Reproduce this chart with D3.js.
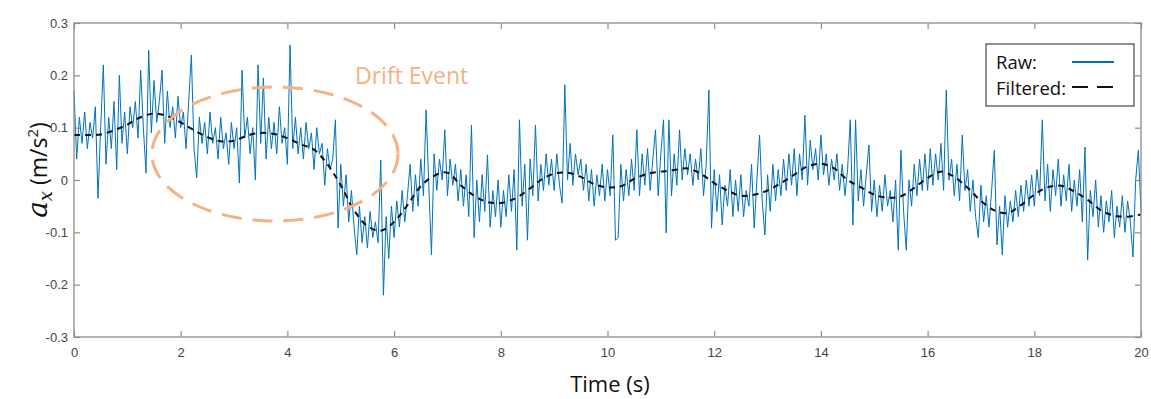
<!DOCTYPE html>
<html><head><meta charset="utf-8">
<script src="https://cdn.jsdelivr.net/npm/d3@7"></script>
<style>body{margin:0;background:#fff}svg{display:block}</style>
</head><body>
<svg id="chart" width="1151" height="399"></svg>
<script>
// ---- data ----
const rawStep = 0.05;
const rawValues = [
0.17,0.04,0.12,0.07,0.13,0.06,0.11,0.08,0.14,-0.035,0.10,0.22,0.03,0.12,0.06,0.15,0.02,0.20,0.07,0.13,
0.05,0.14,0.10,0.15,0.08,0.21,0.10,0.013,0.248,0.09,0.19,0.11,0.15,0.21,0.07,0.17,0.10,0.14,0.08,0.16,
0.10,0.13,0.06,0.15,0.239,0.06,0.004,0.12,0.07,0.11,0.05,0.13,0.07,0.10,0.04,0.12,0.06,0.09,0.03,0.11,
0.06,0.10,-0.006,0.21,0.08,0.12,0.05,0.10,0.00,0.22,0.07,0.195,0.04,0.12,0.06,0.11,0.05,0.14,0.07,0.10,
0.03,0.258,0.06,0.12,0.05,0.10,0.04,0.11,0.06,0.09,0.02,0.10,0.05,0.07,-0.01,0.06,0.02,0.04,0.115,-0.092,
0.03,-0.05,0.01,-0.08,-0.02,-0.09,-0.143,-0.05,-0.12,-0.07,-0.13,-0.06,-0.11,-0.08,-0.12,0.038,-0.22,-0.07,-0.15,-0.05,
-0.11,-0.04,-0.09,-0.02,-0.08,-0.03,0.03,-0.06,0.01,-0.05,0.04,-0.03,0.134,-0.01,-0.143,0.05,-0.02,0.04,0.00,0.096,
-0.03,0.04,-0.01,0.03,-0.04,0.02,-0.05,0.01,-0.07,0.105,-0.11,0.00,-0.08,0.01,-0.06,0.048,-0.09,-0.02,-0.07,0.00,
-0.09,-0.02,-0.07,0.01,-0.06,0.02,-0.134,0.115,-0.05,0.03,-0.115,0.04,-0.03,0.105,-0.04,0.03,-0.02,0.05,-0.01,0.04,
-0.02,0.05,-0.01,-0.044,0.182,0.00,0.07,-0.01,0.05,0.01,0.04,-0.02,0.03,-0.04,0.02,-0.05,0.01,-0.03,0.03,-0.04,
0.02,-0.03,0.086,-0.115,-0.11,0.03,-0.04,0.02,-0.03,0.04,-0.02,0.096,-0.03,0.05,-0.01,0.06,-0.02,0.04,0.096,-0.03,
0.05,0.115,-0.101,0.115,-0.03,0.05,-0.01,0.096,0.00,0.06,0.01,0.05,-0.01,0.04,0.00,0.06,-0.03,0.03,0.172,-0.092,
0.02,-0.06,0.01,-0.086,-0.01,-0.05,0.02,-0.07,0.00,-0.06,0.01,-0.07,-0.02,-0.05,0.03,-0.092,0.00,0.086,-0.04,-0.105,
0.01,-0.06,0.03,-0.04,0.02,-0.03,0.04,-0.02,0.05,-0.01,0.06,-0.03,0.05,0.00,0.124,-0.01,0.076,0.02,0.06,0.00,
0.086,0.01,0.05,-0.01,0.04,0.00,0.05,-0.02,0.03,-0.03,0.02,0.115,-0.086,0.115,-0.04,0.02,-0.05,0.01,0.067,-0.06,
0.00,-0.07,-0.01,-0.06,0.01,-0.05,-0.02,-0.08,0.00,-0.134,0.057,-0.06,-0.134,0.00,-0.05,0.03,-0.03,0.04,-0.02,0.05,
-0.02,0.06,-0.01,0.05,0.00,0.07,-0.02,0.172,0.00,0.04,-0.03,0.03,-0.04,0.086,-0.02,0.02,-0.06,0.00,-0.07,-0.11,
-0.01,-0.08,-0.03,-0.09,-0.02,0.057,-0.124,-0.05,-0.143,-0.03,-0.09,-0.04,-0.08,-0.02,-0.07,-0.01,-0.06,0.00,-0.05,0.01,
-0.05,0.02,-0.03,0.115,-0.04,0.03,-0.06,0.02,-0.03,0.04,-0.05,0.01,-0.04,0.03,-0.06,0.00,-0.05,0.02,-0.08,0.063,
-0.153,-0.02,-0.07,0.00,-0.09,-0.03,-0.10,-0.04,-0.08,-0.02,-0.11,-0.05,-0.09,-0.03,-0.10,-0.04,-0.08,-0.147,0.00,0.057,
-0.06
];
const filtStep = 0.25;
const filteredValues = [
0.086,0.086,0.087,0.095,0.106,0.120,0.127,0.122,0.110,0.095,0.082,0.074,0.075,0.085,0.090,0.088,
0.080,0.068,0.058,0.030,-0.010,-0.058,-0.088,-0.097,-0.080,-0.048,-0.012,0.008,0.014,-0.010,-0.030,-0.042,
-0.044,-0.036,-0.020,0.000,0.012,0.014,0.006,-0.008,-0.014,-0.012,0.002,0.012,0.016,0.019,0.022,0.012,
-0.006,-0.020,-0.030,-0.028,-0.020,-0.006,0.010,0.026,0.031,0.022,0.000,-0.014,-0.028,-0.034,-0.031,-0.015,
0.004,0.016,0.006,-0.015,-0.040,-0.058,-0.063,-0.048,-0.028,-0.014,-0.011,-0.022,-0.038,-0.058,-0.068,-0.070,
-0.066
];
const xTicks = [0,2,4,6,8,10,12,14,16,18,20];
const yTicks = [-0.3,-0.2,-0.1,0,0.1,0.2,0.3];
const yTickLabels = ["-0.3","-0.2","-0.1","0","0.1","0.2","0.3"];

// ---- layout ----
const svg = d3.select("#chart");
const L = 74, R = 1141, T = 23, B = 337;
const x = d3.scaleLinear().domain([0,20]).range([L,R]);
const y = d3.scaleLinear().domain([-0.3,0.3]).range([B,T]);
const frameColor = "#8c8c8c";
const tickTextColor = "#444";

const raw = rawValues.map((v,i)=>({t:i*rawStep, v}));
const filt = filteredValues.map((v,i)=>({t:i*filtStep, v}));

// raw line
svg.append("path").datum(raw)
  .attr("d", d3.line().x(d=>x(d.t)).y(d=>y(d.v)))
  .attr("fill","none").attr("stroke","#0072BD").attr("stroke-width",1)
  .attr("stroke-linejoin","round");

// filtered
svg.append("path").datum(filt)
  .attr("d", d3.line().curve(d3.curveCatmullRom).x(d=>x(d.t)).y(d=>y(d.v)))
  .attr("fill","none").attr("stroke","#111").attr("stroke-width",2)
  .attr("stroke-dasharray","6,5");

// axes
function styleAxis(g){
  g.select(".domain").remove();
  g.selectAll(".tick line").attr("stroke",frameColor).attr("stroke-width",1.2);
  g.selectAll(".tick text").attr("fill",tickTextColor)
    .style("font-family","'Liberation Sans', Arial, sans-serif").style("font-size","13px");
}
const fmtY = d => yTickLabels[yTicks.indexOf(d)];
svg.append("g").attr("transform",`translate(0,${B})`)
  .call(d3.axisBottom(x).tickValues(xTicks).tickSize(-6).tickPadding(11).tickFormat(d3.format("d")))
  .call(styleAxis);
svg.append("g").attr("transform",`translate(0,${T})`)
  .call(d3.axisTop(x).tickValues(xTicks).tickSize(-6).tickFormat(""))
  .call(styleAxis);
svg.append("g").attr("transform",`translate(${L},0)`)
  .call(d3.axisLeft(y).tickValues(yTicks).tickSize(-6).tickPadding(6).tickFormat(fmtY))
  .call(styleAxis);
svg.append("g").attr("transform",`translate(${R},0)`)
  .call(d3.axisRight(y).tickValues(yTicks).tickSize(-6).tickFormat(""))
  .call(styleAxis);

// frame
svg.append("rect").attr("x",L).attr("y",T).attr("width",R-L).attr("height",B-T)
  .attr("fill","none").attr("stroke",frameColor).attr("stroke-width",1.3);

// ellipse annotation
svg.append("ellipse").attr("cx",275).attr("cy",154).attr("rx",123).attr("ry",67)
  .attr("fill","none").attr("stroke","#F4B183").attr("stroke-width",3)
  .attr("stroke-dasharray","20,11");
svg.append("text").attr("x",355).attr("y",84).text("Drift Event")
  .attr("fill","#F4B183").style("font-family","'Open Sans', sans-serif").style("font-size","23px");

// axis titles
svg.append("text").attr("x",610).attr("y",392).attr("text-anchor","middle")
  .style("font-family","'Open Sans', sans-serif").style("font-size","22px").attr("fill","#111")
  .text("Time (s)");
const yl = svg.append("text").attr("transform","translate(47,170) rotate(-90)")
  .attr("text-anchor","middle").attr("fill","#111")
  .style("font-family","'Open Sans', sans-serif").style("font-size","23px");
yl.append("tspan").text("a").style("font-family","'DejaVu Serif', serif").style("font-style","italic").style("font-size","28px");
yl.append("tspan").text("x").attr("dy",5).style("font-family","'DejaVu Serif', serif").style("font-style","italic").style("font-size","18px");
yl.append("tspan").text(" (m/s").attr("dy",-5);
yl.append("tspan").text("2").attr("dy",-9).style("font-size","15px");
yl.append("tspan").text(")").attr("dy",9);

// legend
const lg = svg.append("g");
lg.append("rect").attr("x",986).attr("y",44).attr("width",148).attr("height",62)
  .attr("fill","#fff").attr("stroke","#222").attr("stroke-width",1);
lg.append("text").attr("x",996).attr("y",69).text("Raw:")
  .style("font-family","'Open Sans', sans-serif").style("font-size","18.5px").attr("fill","#111");
lg.append("text").attr("x",996).attr("y",95).text("Filtered:")
  .style("font-family","'Open Sans', sans-serif").style("font-size","18.5px").attr("fill","#111");
lg.append("line").attr("x1",1072).attr("x2",1114).attr("y1",62).attr("y2",62)
  .attr("stroke","#0072BD").attr("stroke-width",2);
lg.append("line").attr("x1",1072).attr("x2",1114).attr("y1",87).attr("y2",87)
  .attr("stroke","#111").attr("stroke-width",2).attr("stroke-dasharray","16,9");
</script>
</body></html>
